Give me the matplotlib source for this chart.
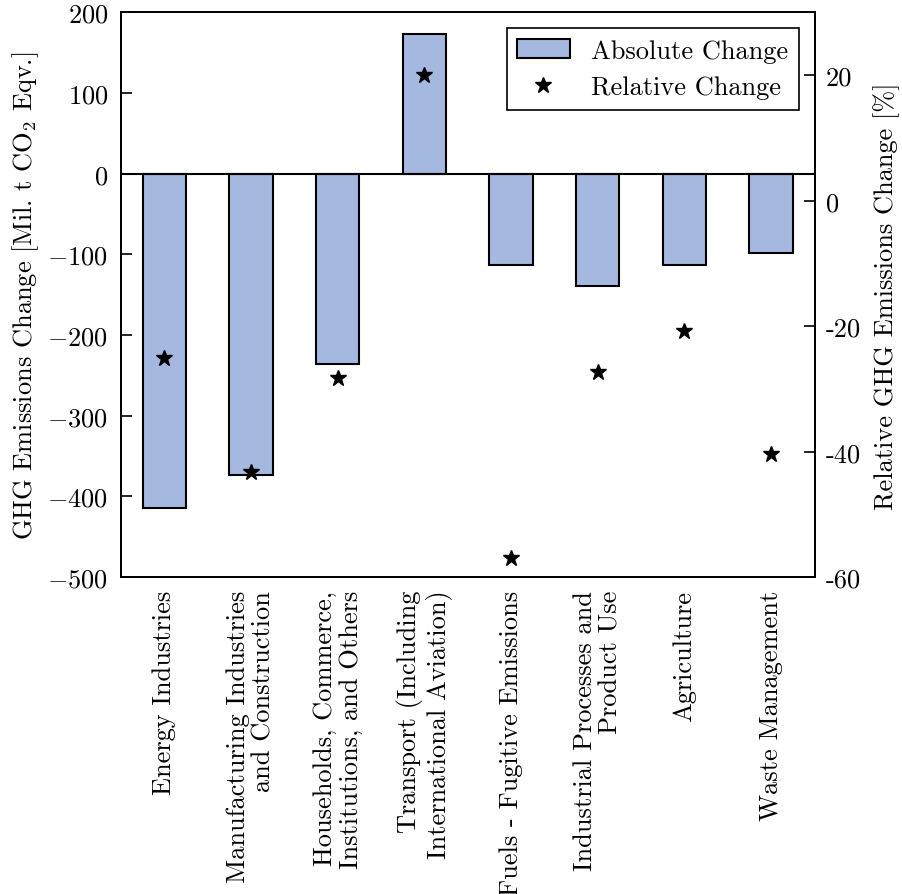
import numpy as np
import matplotlib
matplotlib.use('Agg')
import matplotlib.pyplot as plt

# sector-wise change in GHG emissions
categories = [
    'Energy Industries',
    'Manufacturing Industries\nand Construction',
    'Households, Commerce,\nInstitutions, and Others',
    'Transport (Including\nInternational Aviation)',
    'Fuels - Fugitive Emissions',
    'Industrial Processes and\nProduct Use',
    'Agriculture',
    'Waste Management',
]
abs_change = [-414, -373, -236, 173, -113, -139, -113, -98]   # Mil. t CO2 eqv.
rel_change = [-25.1, -43.3, -28.2, 20.1, -57.0, -27.3, -20.8, -40.3]  # %

plt.rcParams['font.family'] = 'cmr10'
plt.rcParams['mathtext.fontset'] = 'cm'
plt.rcParams['axes.formatter.use_mathtext'] = True
plt.rcParams['font.size'] = 19
plt.rcParams['axes.linewidth'] = 1.3

fig = plt.figure(figsize=(9.03, 8.95), dpi=100)
ax = fig.add_axes([0.134, 0.354, 0.768, 0.631])
x = np.arange(len(categories))

bars = ax.bar(x, abs_change, width=0.5, color='#a5b8df', edgecolor='k',
              linewidth=1.5, label='Absolute Change', zorder=2)
ax.axhline(0, color='k', lw=1.5, zorder=3)
ax.set_xlim(-0.5, len(categories) - 0.5)
ax.set_ylim(-500, 200)
ax.set_yticks(np.arange(-500, 201, 100))
ax.set_xticks(x)
ax.set_xticklabels(categories, rotation=90, ha='center', va='top',
                   multialignment='right', linespacing=1.1)
ax.tick_params(axis='x', length=0, pad=9)
ax.tick_params(axis='y', direction='in', length=8, width=1.2, pad=9,
               right=False)
ax.set_ylabel('GHG Emissions Change [Mil. t CO$_2$ Eqv.]', labelpad=5)

ax2 = ax.twinx()
stars, = ax2.plot(x, rel_change, 'k*', markersize=12, linestyle='none',
                  label='Relative Change')
ax2.set_ylim(-60, 30)
rticks = [-60, -40, -20, 0, 20]
ax2.set_yticks(rticks)
ax2.set_yticklabels([str(t) for t in rticks])
ax2.tick_params(axis='y', direction='in', length=8, width=1.2, pad=8)
ax2.set_ylabel('Relative GHG Emissions Change [%]', labelpad=9)

leg = ax2.legend([bars, stars], ['Absolute Change', 'Relative Change'],
                 loc='upper right', fancybox=False, framealpha=1,
                 edgecolor='k', borderaxespad=0.6, handlelength=2.0,
                 numpoints=1)
leg.get_frame().set_linewidth(1.2)

fig.savefig('out.png', dpi=100)
